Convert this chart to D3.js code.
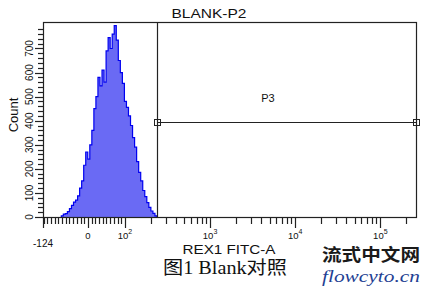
<!DOCTYPE html>
<html>
<head>
<meta charset="utf-8">
<script src="https://cdn.jsdelivr.net/npm/d3@7"></script>
<style>
    body { margin: 0; background: #fff; }
    svg { display: block; }
</style>
</head>
<body>
<div id="chart"></div>
<script>
// histogram counts, bins evenly spaced on the display (biexponential) axis
let counts = [5, 12, 14, 22, 35, 48, 62, 70, 88, 120, 150, 215, 270, 240, 300, 360, 450, 500,
    580, 545, 610, 560, 690, 745, 700, 760, 795, 735, 650, 600, 555, 480, 455, 420, 380, 330,
    290, 230, 185, 150, 110, 85, 60, 40, 25, 15, 5];
let binLo = -72;
let binHi = 238;

let xDomain = [-124, 262144];
let xMajor = [0, 100, 1000, 10000, 100000];
let xMajorLabels = ["0", "10", "10", "10", "10"];
let xMajorExp = ["", "2", "3", "4", "5"];
let xMinor = [-120, -110, -100, -90, -80, -70, -60, -50, -40, -30, -20, -10,
    10, 20, 30, 40, 50, 60, 70, 80, 90,
    200, 300, 400, 500, 600, 700, 800, 900,
    2000, 3000, 4000, 5000, 6000, 7000, 8000, 9000,
    20000, 30000, 40000, 50000, 60000, 70000, 80000, 90000, 200000];

let yDomain = [0, 810];
let yMajor = [0, 100, 200, 300, 400, 500, 600, 700];
let yMinor = d3.range(20, 800, 20).filter(v => v % 100 !== 0);

let gateName = "P3";
let gateFrom = 240;
let gateTo = 262144;
let gateLevel = 395;

let config = {
    width: 427,
    height: 291,
    left: 43,
    right: 416,
    top: 22,
    bottom: 217,
    fill: "#6a6af4",
    stroke: "#0000f0",
    sans: "'Liberation Sans', Arial, sans-serif"
};

// linear around zero, log beyond +-L (rough stand-in for the biexponential display)
const L = 100;
function T(v) {
    let a = Math.abs(v);
    return Math.sign(v) * (a <= L ? a / L : 1 + Math.log(a / L));
}
function Tinv(t) {
    let a = Math.abs(t);
    return Math.sign(t) * (a <= 1 ? a * L : L * Math.exp(a - 1));
}

let xLin = d3.scaleLinear()
    .domain(xDomain.map(T))
    .range([config.left, config.right]);
let x = (v) => xLin(T(v));

let y = d3.scaleLinear()
    .domain(yDomain)
    .range([config.bottom, config.top]);

let svg = d3.select("#chart")
    .append("svg")
    .attr("width", config.width)
    .attr("height", config.height);

// bins
let t0 = T(binLo), t1 = T(binHi);
let bins = counts.map((c, i) => ({v: Tinv(t0 + i * (t1 - t0) / counts.length), c: c}));
bins.push({v: binHi, c: 0});
let steps = [{v: binLo, c: 0}].concat(bins);

let area = d3.area()
    .curve(d3.curveStepAfter)
    .x(d => x(d.v))
    .y0(y(0))
    .y1(d => y(d.c));

let line = d3.line()
    .curve(d3.curveStepAfter)
    .x(d => x(d.v))
    .y(d => y(d.c));

svg.append("path")
    .datum(bins)
    .attr("d", area)
    .attr("fill", config.fill);

svg.append("path")
    .datum(steps)
    .attr("d", line)
    .attr("fill", "none")
    .attr("stroke", config.stroke)
    .attr("stroke-width", 1.2);

// frame
svg.append("rect")
    .attr("x", config.left + 0.5)
    .attr("y", config.top + 0.5)
    .attr("width", config.right - config.left)
    .attr("height", config.bottom - config.top)
    .attr("fill", "none")
    .attr("stroke", "#222")
    .attr("stroke-width", 1.2);

// y axis ticks
let yTicks = svg.append("g").attr("stroke", "#222").attr("stroke-width", 1.2);
yTicks.selectAll(".major")
    .data(yMajor)
    .enter().append("line")
    .attr("x1", config.left - 8).attr("x2", config.left)
    .attr("y1", d => Math.round(y(d)) + 0.5).attr("y2", d => Math.round(y(d)) + 0.5);
yTicks.selectAll(".minor")
    .data(yMinor)
    .enter().append("line")
    .attr("x1", config.left - 5).attr("x2", config.left)
    .attr("y1", d => Math.round(y(d)) + 0.5).attr("y2", d => Math.round(y(d)) + 0.5);

svg.append("g")
    .selectAll("text")
    .data(yMajor)
    .enter().append("text")
    .attr("transform", d => `translate(33,${y(d)}) rotate(-90)`)
    .attr("text-anchor", "middle")
    .attr("font-family", config.sans)
    .attr("font-size", 10)
    .attr("fill", "#111")
    .text(d => d);

svg.append("text")
    .attr("transform", `translate(18,115) rotate(-90)`)
    .attr("text-anchor", "middle")
    .attr("font-family", config.sans)
    .attr("font-size", 13)
    .attr("fill", "#111")
    .text("Count");

// x axis ticks
let xTicks = svg.append("g").attr("stroke", "#222").attr("stroke-width", 1.2);
xTicks.selectAll(".major")
    .data([xDomain[0]].concat(xMajor))
    .enter().append("line")
    .attr("x1", d => Math.round(x(d)) + 0.5).attr("x2", d => Math.round(x(d)) + 0.5)
    .attr("y1", config.bottom).attr("y2", config.bottom + 11);
xTicks.selectAll(".minor")
    .data(xMinor)
    .enter().append("line")
    .attr("x1", d => Math.round(x(d)) + 0.5).attr("x2", d => Math.round(x(d)) + 0.5)
    .attr("y1", config.bottom).attr("y2", config.bottom + 7);

let xLabels = svg.append("g")
    .attr("font-family", config.sans)
    .attr("fill", "#111")
    .selectAll("text")
    .data(xMajor)
    .enter().append("text")
    .attr("x", d => x(d))
    .attr("y", 238.5)
    .attr("text-anchor", "middle")
    .attr("font-size", 9.5);
xLabels.append("tspan").text((d, i) => xMajorLabels[i]);
xLabels.append("tspan")
    .attr("dy", -5)
    .attr("font-size", 7)
    .text((d, i) => xMajorExp[i]);

svg.append("text")
    .attr("x", x(xDomain[0]))
    .attr("y", 247)
    .attr("text-anchor", "middle")
    .attr("font-family", config.sans)
    .attr("font-size", 10)
    .attr("fill", "#111")
    .text(xDomain[0]);

svg.append("text")
    .attr("x", 229)
    .attr("y", 254)
    .attr("text-anchor", "middle")
    .attr("font-family", config.sans)
    .attr("font-size", 13.5)
    .attr("textLength", 93)
    .attr("lengthAdjust", "spacingAndGlyphs")
    .attr("fill", "#111")
    .text("REX1 FITC-A");

svg.append("text")
    .attr("x", 209)
    .attr("y", 18)
    .attr("text-anchor", "middle")
    .attr("font-family", config.sans)
    .attr("font-size", 12)
    .attr("textLength", 75)
    .attr("lengthAdjust", "spacingAndGlyphs")
    .attr("fill", "#111")
    .text("BLANK-P2");

// interval gate
let gx0 = x(gateFrom), gx1 = x(gateTo), gy = Math.round(y(gateLevel)) + 0.5;
svg.append("line")
    .attr("x1", Math.round(gx0) + 0.5).attr("x2", Math.round(gx0) + 0.5)
    .attr("y1", config.top).attr("y2", config.bottom)
    .attr("stroke", "#222").attr("stroke-width", 1.2);
svg.append("line")
    .attr("x1", gx0).attr("x2", gx1)
    .attr("y1", gy).attr("y2", gy)
    .attr("stroke", "#222").attr("stroke-width", 1.2);
svg.selectAll(".handle")
    .data([gx0, gx1])
    .enter().append("rect")
    .attr("x", d => Math.round(d) - 2.5)
    .attr("y", gy - 3)
    .attr("width", 6)
    .attr("height", 6)
    .attr("fill", "none")
    .attr("stroke", "#222");
svg.append("text")
    .attr("x", 268)
    .attr("y", 102)
    .attr("text-anchor", "middle")
    .attr("font-family", config.sans)
    .attr("font-size", 11)
    .attr("fill", "#111")
    .text(gateName);

// caption and watermark
svg.append("text")
    .attr("x", 225)
    .attr("y", 274)
    .attr("text-anchor", "middle")
    .attr("font-family", "'Liberation Serif', 'Noto Sans CJK SC', serif")
    .attr("font-size", 18)
    .attr("textLength", 124)
    .attr("lengthAdjust", "spacingAndGlyphs")
    .attr("fill", "#111")
    .text("图1 Blank对照");

svg.append("text")
    .attr("x", 371)
    .attr("y", 261)
    .attr("text-anchor", "middle")
    .attr("font-family", "'Noto Sans CJK SC', sans-serif")
    .attr("font-weight", "bold")
    .attr("font-size", 17.5)
    .attr("textLength", 98)
    .attr("lengthAdjust", "spacingAndGlyphs")
    .attr("fill", "#1a1a1a")
    .text("流式中文网");

svg.append("text")
    .attr("x", 371)
    .attr("y", 282)
    .attr("text-anchor", "middle")
    .attr("font-family", "'Liberation Serif', serif")
    .attr("font-style", "italic")
    .attr("font-size", 17.5)
    .attr("textLength", 98)
    .attr("lengthAdjust", "spacingAndGlyphs")
    .attr("fill", "#1f3f93")
    .text("flowcyto.cn");
</script>
</body>
</html>
